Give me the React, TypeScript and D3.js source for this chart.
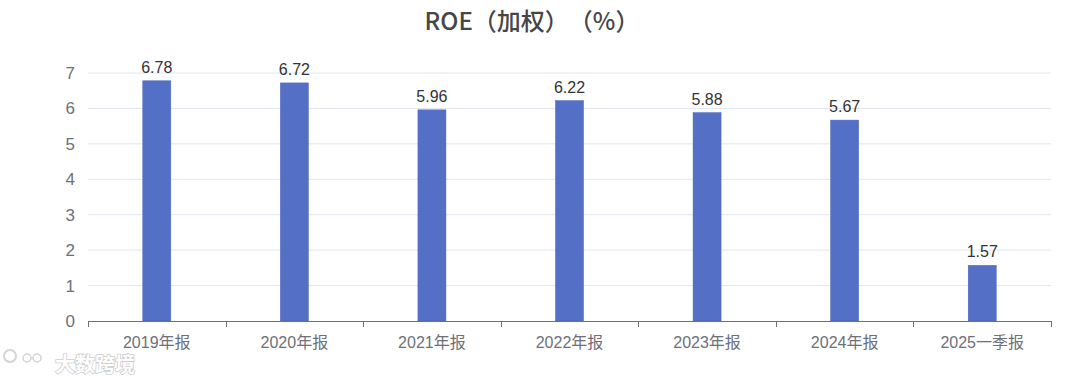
import React from "react";
import * as d3 from "d3";

const categories = ["2019年报", "2020年报", "2021年报", "2022年报", "2023年报", "2024年报", "2025一季报"];
const values = [6.78, 6.72, 5.96, 6.22, 5.88, 5.67, 1.57];
const yTicks = [0, 1, 2, 3, 4, 5, 6, 7];
const title = "ROE（加权）（%）";

export default function App() {
  const W = 1080, H = 379;
  const left = 88, right = 1051, top = 73, bottom = 321;
  const x = d3.scaleBand<string>().domain(categories).range([left, right]).paddingInner(0).paddingOuter(0);
  const y = d3.scaleLinear().domain([0, 7]).range([bottom, top]);
  const barW = 28;
  const font = "'Liberation Sans', 'Noto Sans CJK SC', sans-serif";
  return (
    <svg width={W} height={H} style={{ position: "absolute", left: 0, top: 0, background: "#fff" }} fontFamily={font}>
      <text x={532} y={30} textAnchor="middle" fontSize={24} fontWeight={500} fill="#464646"
        style={{ textSpacingTrim: "space-all" } as any} fontFamily="'Noto Sans CJK SC', sans-serif">{title}</text>
      {yTicks.map((t) => (
        <g key={t}>
          {t > 0 && <line x1={left} x2={right} y1={y(t)} y2={y(t)} stroke="#e0e6f1" strokeWidth={1} />}
          <text x={75} y={y(t)} dy="0.35em" textAnchor="end" fontSize={17} fill="#6e7079">{t}</text>
        </g>
      ))}
      {categories.map((c, i) => {
        const cx = x(c)! + x.bandwidth() / 2;
        return (
          <g key={c}>
            <rect x={cx - barW / 2} y={y(values[i])} width={barW} height={bottom - y(values[i])} fill="#5470c6" stroke="#4a63b5" strokeWidth={0.5} />
            <text x={cx} y={y(values[i]) - 8} textAnchor="middle" fontSize={16} fill="#333">{values[i].toFixed(2)}</text>
            <text x={cx} y={bottom + 27} textAnchor="middle" fontSize={16} fill="#6e7079">{c}</text>
          </g>
        );
      })}
      <line x1={left} x2={right} y1={bottom + 0.5} y2={bottom + 0.5} stroke="#6e7079" />
      {d3.range(categories.length + 1).map((i) => {
        const xx = Math.round(left + i * x.bandwidth()) + 0.5;
        return <line key={i} x1={xx} x2={xx} y1={bottom} y2={bottom + 6} stroke="#6e7079" />;
      })}
      <g opacity={0.9}>
        <circle cx={10} cy={356} r={6} fill="none" stroke="#d0d0d0" strokeWidth={2} />
        <circle cx={27} cy={358} r={4} fill="none" stroke="#d0d0d0" strokeWidth={1.5} />
        <circle cx={37} cy={358} r={4} fill="none" stroke="#d0d0d0" strokeWidth={1.5} />
        <text x={55} y={372} fontSize={20} fontWeight={700} fill="#fff" stroke="#c8c8c8" strokeWidth={1.5} paintOrder="stroke" fontFamily="'Noto Sans CJK SC', sans-serif">大数跨境</text>
      </g>
    </svg>
  );
}
